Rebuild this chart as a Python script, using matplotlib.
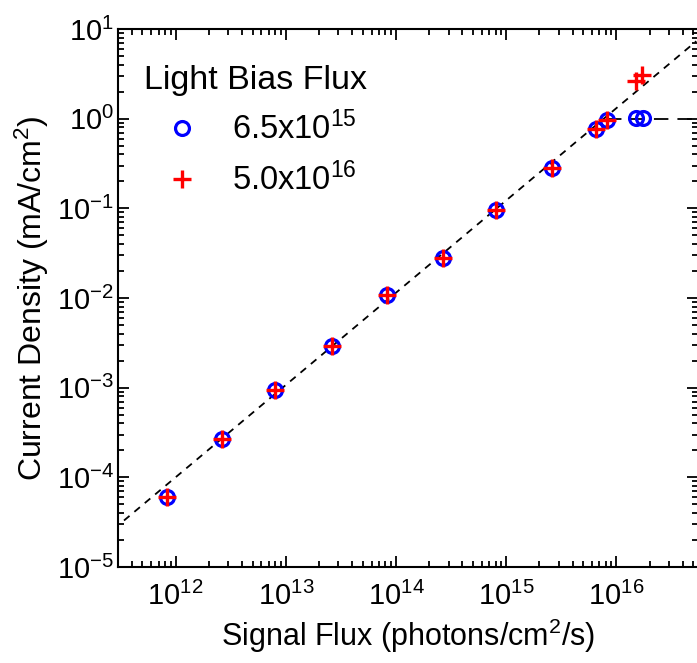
import numpy as np
from matplotlib import pyplot as plt
from matplotlib.ticker import LogLocator, NullFormatter

plt.rcParams['font.family'] = ['Liberation Sans', 'DejaVu Sans']
plt.rcParams['mathtext.fontset'] = 'custom'
plt.rcParams['mathtext.rm'] = 'Liberation Sans'
plt.rcParams['mathtext.it'] = 'Liberation Sans:italic'

# signal flux (photons/cm^2/s) and current density (mA/cm^2)
flux_low = [8.3e11, 2.64e12, 8.05e12, 2.6e13, 8.2e13, 2.64e14, 8.1e14, 2.62e15, 6.5e15, 8.2e15, 1.52e16, 1.75e16]
j_low = [6.0e-5, 2.7e-4, 9.3e-4, 2.9e-3, 1.08e-2, 2.8e-2, 9.6e-2, 0.282, 0.76, 0.96, 1.02, 1.02]

flux_high = [8.3e11, 2.64e12, 8.05e12, 2.6e13, 8.2e13, 2.64e14, 8.1e14, 2.62e15, 6.5e15, 8.2e15, 1.52e16, 1.71e16]
j_high = [6.0e-5, 2.7e-4, 9.3e-4, 2.9e-3, 1.08e-2, 2.8e-2, 9.6e-2, 0.282, 0.76, 0.96, 2.65, 3.09]

# guide lines
fit_x = [3.4e11, 5.3e16]
fit_y = [3.3e-5, 7.3]
sat_x = [8.2e15, 5.5e16]
sat_y = [1.0, 1.0]

xticks = [1e12, 1e13, 1e14, 1e15, 1e16]
yticks = [1e-5, 1e-4, 1e-3, 1e-2, 1e-1, 1e0, 1e1]

fig = plt.figure(figsize=(6.97, 6.63), dpi=100)
ax = fig.add_axes([0.1693, 0.1448, 0.8322, 0.8115])

ax.plot(fit_x, fit_y, color='black', lw=1.3, dashes=(4, 3.5))
ax.plot(sat_x, sat_y, color='black', lw=1.3, dashes=(8, 5))
ax.plot(flux_low, j_low, linestyle='none', marker='o', ms=10, mfc='none',
        mec='blue', mew=2.3, label=r'6.5x10$^{15}$')
ax.plot(flux_high, j_high, linestyle='none', marker='+', ms=13,
        mec='red', mew=2.4, label=r'5.0x10$^{16}$')

ax.set_xscale('log')
ax.set_yscale('log')
ax.set_xticks(xticks)
ax.set_yticks(yticks)
ax.set_xlim(3.0e11, 5.5e16)
ax.set_ylim(1e-5, 10)

ax.xaxis.set_minor_locator(LogLocator(base=10, subs=np.arange(2, 10), numticks=20))
ax.yaxis.set_minor_locator(LogLocator(base=10, subs=np.arange(2, 10), numticks=20))
ax.xaxis.set_minor_formatter(NullFormatter())
ax.yaxis.set_minor_formatter(NullFormatter())

ax.tick_params(which='both', direction='in', top=True, right=True, width=1.3)
ax.tick_params(which='major', length=8, labelsize=21)
ax.tick_params(axis='x', which='major', pad=11)
ax.tick_params(axis='y', which='major', pad=3)
ax.tick_params(which='minor', length=4.5)
for s in ax.spines.values():
    s.set_linewidth(1.5)

ax.set_xlabel('Signal Flux (photons/cm$^2$/s)', fontsize=22, labelpad=4)
ax.set_ylabel('Current Density (mA/cm$^2$)', fontsize=23, labelpad=4)

leg = ax.legend(title='Light Bias Flux', loc='upper left', bbox_to_anchor=(0.022, 0.958),
                frameon=False, fontsize=23.5, title_fontsize=24.5, handlelength=2.35,
                handletextpad=0.35, labelspacing=0.5, borderaxespad=0)
leg._legend_box.align = 'left'

plt.savefig('out.png', dpi=100)
